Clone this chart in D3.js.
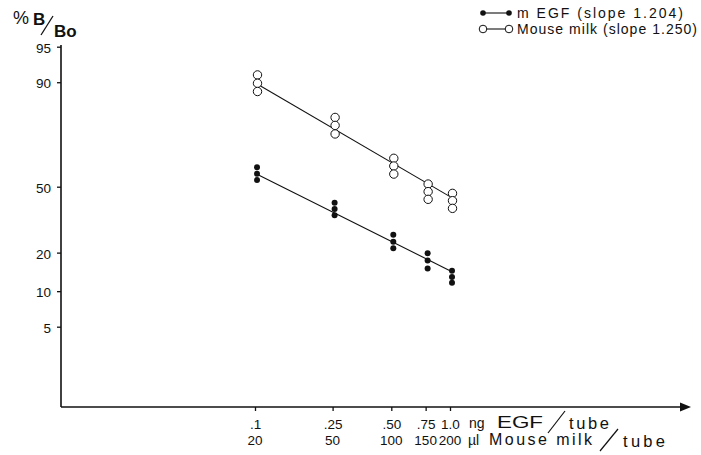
<!DOCTYPE html>
<html>
<head>
<meta charset="utf-8">
<script src="https://cdn.jsdelivr.net/npm/d3@7"></script>
<style>
  body { margin: 0; background: #fff; }
  svg { font-family: "Liberation Sans", Arial, sans-serif; }
  text { fill: #111; }
</style>
</head>
<body>
<svg id="chart" width="701" height="455"></svg>
<script>

// doses (ng EGF / tube) and the matching milk volumes
var doses = [0.1, 0.25, 0.5, 0.75, 1.0];
var doseLabels = [".1", ".25", ".50", ".75", "1.0"];
var milkLabels = ["20", "50", "100", "150", "200"];

// %B/Bo, three replicates per dose
var egfValues = [
    [60.1, 56.8, 53.5],
    [41.7, 38.5, 35.4],
    [26.7, 23.9, 21.5],
    [19.8, 17.5, 15.2],
    [14.6, 13.0, 11.7]
];
var milkValues = [
    [91.3, 89.8, 88.1],
    [81.1, 78.4, 75.2],
    [64.5, 60.7, 56.6],
    [51.4, 47.4, 43.4],
    [46.5, 42.7, 38.8]
];

// fitted lines (dose, %B/Bo at the ends)
var egfFit = [[0.1, 57.0], [1.0, 14.6]];
var milkFit = [[0.1, 89.9], [1.0, 44.8]];

var yTicks = [5, 10, 20, 50, 90, 95];
var legendLabels = ["m EGF (slope 1.204)", "Mouse milk  (slope 1.250)"];

function logit(p) {
    var f = p / 100;
    return Math.log(f / (1 - f));
}

var svg = d3.select("#chart");

var x = d3.scaleLog().domain([0.1, 1]).range([255, 450]);
var y = d3.scaleLinear().domain([logit(50), logit(95)]).range([186.7, 46.7]);

var axisX0 = 61, axisY0 = 407;

// axes lines
svg.append("line")
    .attr("x1", axisX0).attr("y1", 45)
    .attr("x2", axisX0).attr("y2", axisY0)
    .attr("stroke", "#111").attr("stroke-width", 1.6);
svg.append("line")
    .attr("x1", axisX0).attr("y1", axisY0)
    .attr("x2", 682).attr("y2", axisY0)
    .attr("stroke", "#111").attr("stroke-width", 1.6);
svg.append("path")
    .attr("d", "M680," + (axisY0 - 4.5) + "L691," + axisY0 + "L680," + (axisY0 + 4.5) + "Z")
    .attr("fill", "#111");

// y axis
var yAxis = d3.axisLeft(y)
    .tickValues(yTicks.map(logit))
    .tickFormat(function(d, i) { return yTicks[i]; })
    .tickSize(4)
    .tickSizeOuter(0)
    .tickPadding(6);

var gy = svg.append("g").attr("transform", "translate(" + axisX0 + ",0)").call(yAxis);
gy.select(".domain").remove();
gy.selectAll(".tick line").attr("stroke", "#111").attr("stroke-width", 1.3);
gy.selectAll(".tick text")
    .attr("font-family", "'Liberation Sans', Arial, sans-serif")
    .attr("font-size", 13.5)
    .attr("fill", "#111")
    .attr("dy", "0.4em");

// x axis
var xAxis = d3.axisBottom(x)
    .tickValues(doses)
    .tickFormat(function(d, i) { return doseLabels[i]; })
    .tickSize(4)
    .tickSizeOuter(0)
    .tickPadding(8);

var gx = svg.append("g").attr("transform", "translate(0," + axisY0 + ")").call(xAxis);
gx.select(".domain").remove();
gx.selectAll(".tick line").attr("stroke", "#111").attr("stroke-width", 1.3);
gx.selectAll(".tick text")
    .attr("font-family", "'Liberation Sans', Arial, sans-serif")
    .attr("font-size", 13.5)
    .attr("fill", "#111");

svg.append("g").selectAll("text.milk")
    .data(milkLabels)
    .enter().append("text")
    .attr("class", "milk")
    .attr("x", function(d, i) { return x(doses[i]); })
    .attr("y", 445)
    .attr("text-anchor", "middle")
    .attr("font-size", 13.5)
    .text(function(d) { return d; });

// x axis units
svg.append("text").attr("x", 469).attr("y", 428).attr("font-size", 14).text("ng");
svg.append("text").attr("x", 497).attr("y", 428).attr("font-size", 17)
    .attr("textLength", 46).attr("lengthAdjust", "spacingAndGlyphs").text("EGF");
svg.append("line").attr("x1", 565).attr("y1", 411).attr("x2", 548).attr("y2", 433)
    .attr("stroke", "#111").attr("stroke-width", 1.2);
svg.append("text").attr("x", 569).attr("y", 429).attr("font-size", 16.5)
    .attr("textLength", 40).attr("lengthAdjust", "spacing").text("tube");

svg.append("text").attr("x", 468).attr("y", 445).attr("font-size", 14).text("\u00b5l");
svg.append("text").attr("x", 489).attr("y", 445).attr("font-size", 16)
    .attr("textLength", 103).attr("lengthAdjust", "spacing").text("Mouse milk");
svg.append("line").attr("x1", 618).attr("y1", 429).attr("x2", 600).attr("y2", 451)
    .attr("stroke", "#111").attr("stroke-width", 1.2);
svg.append("text").attr("x", 623).attr("y", 447).attr("font-size", 16.5)
    .attr("textLength", 42).attr("lengthAdjust", "spacing").text("tube");

// y axis title  %B/Bo
svg.append("text").attr("x", 13).attr("y", 24).attr("font-size", 18).text("%");
svg.append("text").attr("x", 33).attr("y", 25).attr("font-size", 17).attr("font-weight", "bold").text("B");
svg.append("line").attr("x1", 53).attr("y1", 16).attr("x2", 41).attr("y2", 35)
    .attr("stroke", "#111").attr("stroke-width", 1.3);
svg.append("text").attr("x", 54).attr("y", 37).attr("font-size", 17).attr("font-weight", "bold").text("Bo");

// fitted lines
var line = d3.line()
    .x(function(d) { return x(d[0]); })
    .y(function(d) { return y(logit(d[1])); });

svg.append("path").datum(milkFit).attr("d", line)
    .attr("fill", "none").attr("stroke", "#111").attr("stroke-width", 1.1);
svg.append("path").datum(egfFit).attr("d", line)
    .attr("fill", "none").attr("stroke", "#111").attr("stroke-width", 1.1);

function flatten(values) {
    var pts = [];
    values.forEach(function(reps, i) {
        reps.forEach(function(v) { pts.push({dose: doses[i], v: v}); });
    });
    return pts;
}

svg.append("g").selectAll("circle")
    .data(flatten(milkValues))
    .enter().append("circle")
    .attr("cx", function(d) { return x(d.dose) + 2.5; })
    .attr("cy", function(d) { return y(logit(d.v)); })
    .attr("r", 4.2)
    .attr("fill", "#fff")
    .attr("stroke", "#111")
    .attr("stroke-width", 1);

svg.append("g").selectAll("circle")
    .data(flatten(egfValues))
    .enter().append("circle")
    .attr("cx", function(d) { return x(d.dose) + 2; })
    .attr("cy", function(d) { return y(logit(d.v)); })
    .attr("r", 3)
    .attr("fill", "#111");

// legend
var leg = svg.append("g");
leg.append("line").attr("x1", 483).attr("y1", 13).attr("x2", 509).attr("y2", 13)
    .attr("stroke", "#111").attr("stroke-width", 1.1);
leg.selectAll("circle.f").data([483, 509]).enter().append("circle")
    .attr("class", "f").attr("cx", function(d) { return d; }).attr("cy", 13)
    .attr("r", 2.8).attr("fill", "#111");
leg.append("line").attr("x1", 483).attr("y1", 29).attr("x2", 509).attr("y2", 29)
    .attr("stroke", "#111").attr("stroke-width", 1.1);
leg.selectAll("circle.o").data([483, 509]).enter().append("circle")
    .attr("class", "o").attr("cx", function(d) { return d; }).attr("cy", 29)
    .attr("r", 3.8).attr("fill", "#fff").attr("stroke", "#111");

leg.selectAll("text").data(legendLabels).enter().append("text")
    .attr("x", 517)
    .attr("y", function(d, i) { return 18 + i * 16; })
    .attr("font-size", 14)
    .attr("textLength", function(d, i) { return i ? 180 : 166; })
    .attr("lengthAdjust", "spacing")
    .text(function(d) { return d; });

</script>
</body>
</html>
